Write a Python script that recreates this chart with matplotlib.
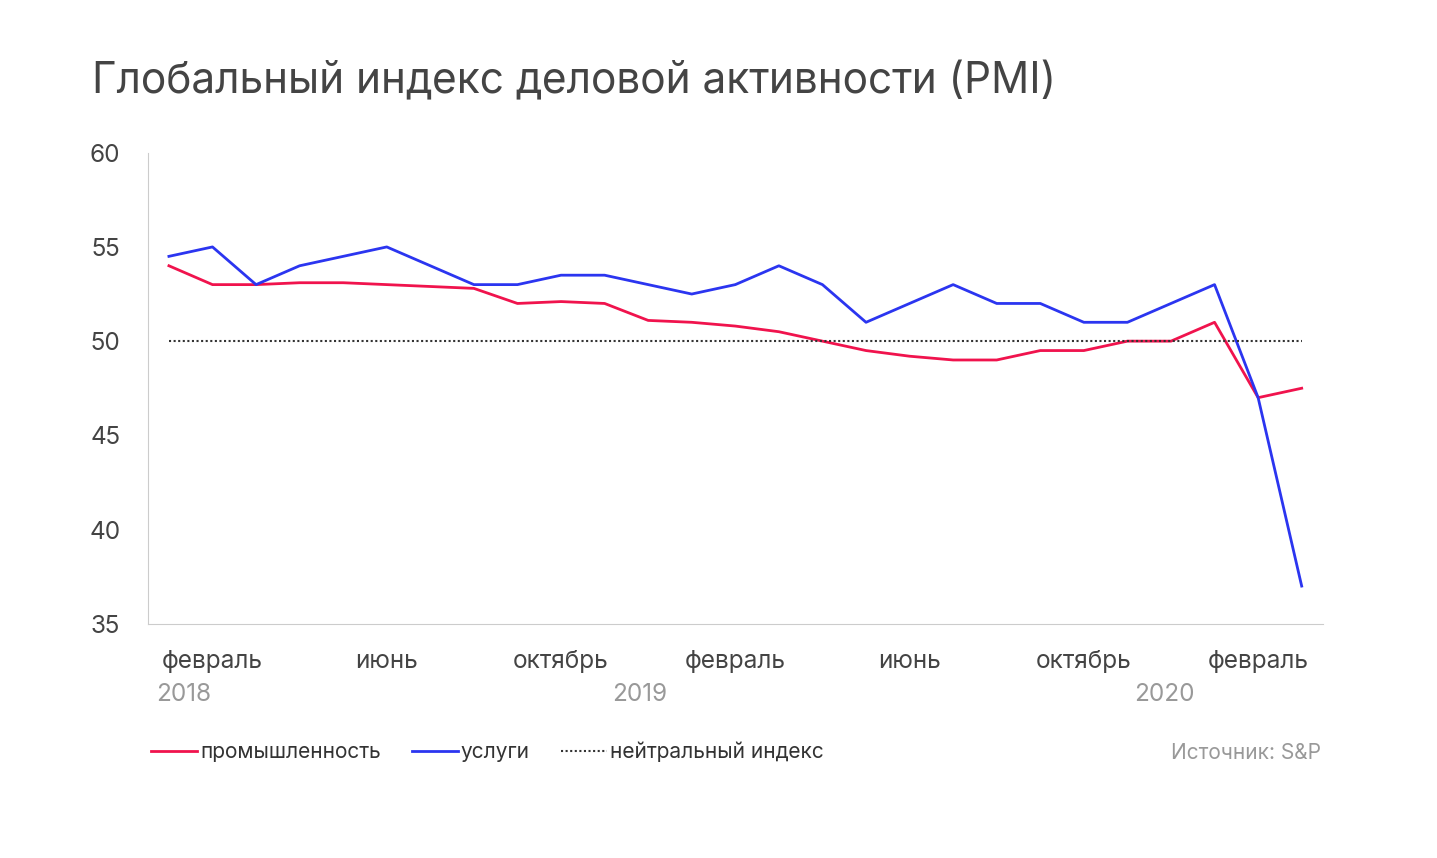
import matplotlib
matplotlib.use("Agg")
import matplotlib.pyplot as plt

plt.rcParams["font.family"] = "Inter"

months_idx = list(range(27))
tick_pos = [1, 5, 9, 13, 17, 21, 25]
tick_labels = ["февраль", "июнь", "октябрь", "февраль", "июнь", "октябрь", "февраль"]
years = [("2018", 0.35), ("2019", 10.8), ("2020", 22.85)]
industry = [54.0, 53.0, 53.0, 53.1, 53.1, 53.0, 52.9, 52.8, 52.0, 52.1, 52.0, 51.1, 51.0,
            50.8, 50.5, 50.0, 49.5, 49.2, 49.0, 49.0, 49.5, 49.5, 50.0, 50.0, 51.0, 47.0, 47.5]
services = [54.5, 55.0, 53.0, 54.0, 54.5, 55.0, 54.0, 53.0, 53.0, 53.5, 53.5, 53.0, 52.5,
            53.0, 54.0, 53.0, 51.0, 52.0, 53.0, 52.0, 52.0, 51.0, 51.0, 52.0, 53.0, 47.0, 37.0]
neutral = [50.0] * 27

fig = plt.figure(figsize=(14.37, 8.58), dpi=100)
ax = fig.add_axes([0.103, 0.273, 0.818, 0.549])
ax.plot(months_idx, industry, color="#f0134d", lw=2, label="промышленность")
ax.plot(months_idx, services, color="#2b35f0", lw=2, label="услуги")
ax.plot(months_idx, neutral, color="#333333", lw=1.5, ls=(0, (1, 1.2)), label="нейтральный индекс")
ax.set_xlim(-0.48, 26.5)
ax.set_ylim(35, 60)
ax.set_yticks([35, 40, 45, 50, 55, 60])
ax.set_xticks(tick_pos)
ax.set_xticklabels(tick_labels)
for s in ["top", "right"]:
    ax.spines[s].set_visible(False)
for s in ["left", "bottom"]:
    ax.spines[s].set_color("#cccccc")
ax.tick_params(length=0, labelsize=17.5, colors="#444444", pad=19)
ax.tick_params(axis="y", pad=20)
for y, x in years:
    ax.text(x, -0.151, y, transform=ax.get_xaxis_transform(), fontsize=17.5, color="#999999", ha="center", va="center")

fig.text(0.064, 0.905, "Глобальный индекс деловой активности (PMI)", fontsize=30.5, color="#444444", va="center")
leg = fig.legend(loc="center left", bbox_to_anchor=(0.092, 0.124), ncol=3, frameon=False, fontsize=15,
                 handlelength=2.2, handletextpad=0.15, columnspacing=1.5)
for t in leg.get_texts():
    t.set_color("#333333")
fig.text(0.919, 0.122, "Источник: S&P", fontsize=15, color="#999999", ha="right", va="center")
fig.savefig("out.png", dpi=100, facecolor="white")
